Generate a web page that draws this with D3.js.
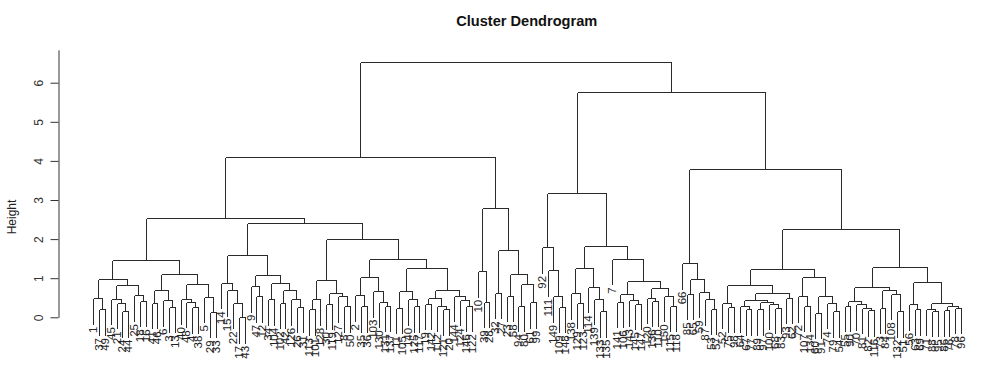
<!DOCTYPE html>
<html><head><meta charset="utf-8">
<script src="https://cdn.jsdelivr.net/npm/d3@7/dist/d3.min.js"></script>
<style>body{margin:0;background:#fff}svg{display:block}</style>
</head><body><svg id="chart" width="982" height="381"></svg>
<script>
// Node = [mergeHeight, left, right]; leaf = observation label.
const clusterA = [1.46,
  [0.99, [0.49, 1, [0.2, 37, 49]], [0.82, [0.48, 45, [0.37, 21, [0.16, 24, 44]]], [0.56, 25, [0.42, 18, 16]]]],
  [1.1, [0.69, [0.37, 41, 46], [0.44, 6, [0.27, 3, 13]]], [0.86, [0.48, 40, [0.4, 48, [0.26, 4, 38]]], [0.53, 5, [0.14, 29, 33]]]]];
const clusterB = [1.6,
  [0.88, 14, [0.7, 15, [0.37, 22, [0.0, 17, 43]]]],
  [1.08, [0.8, 9, [0.54, 47, 12]], [0.88, [0.46, 34, 104], [0.71, [0.37, 102, 42], [0.46, 126, [0.27, 26, 31]]]]]];
const clusterC = [2.0,
  [0.95, [0.46, [0.2, 113, 101], 128], [0.63, [0.35, 30, 119], [0.54, 127, [0.29, 8, 50]]]],
  [1.5,
    [1.03, [0.56, 2, [0.28, 35, 36]], [0.67, 103, [0.4, 130, [0.3, 131, 137]]]],
    [1.27, [0.67, [0.25, 11, 105], [0.46, 140, [0.29, 125, 117]]],
           [0.71, [0.5, [0.35, 19, 142], [0.3, 112, [0.2, 121, 20]]], [0.55, 144, [0.45, 124, [0.3, 146, 122]]]]]]];
const clusterD = [2.8,
  [1.18, 10, [0.4, 39, 28]],
  [1.73, [0.63, 32, 27], [1.11, [0.55, 23, 58], [0.84, [0.3, 94, 80], [0.39, 61, 99]]]]];
const clusterE = [3.19,
  [1.79, 92, [1.2, 111, [0.54, 149, [0.27, 109, 148]]]],
  [1.83,
    [1.25, [0.61, 138, [0.37, 129, 123]], [0.78, 114, [0.48, 139, [0.16, 133, 135]]]],
    [1.5, 7, [0.93, [0.6, [0.4, 141, 106], [0.43, 143, [0.35, 145, 147]]], [0.76, [0.5, 120, [0.42, 136, 110]], [0.55, 150, [0.3, 115, 118]]]]]]];
const clusterF = [3.8,
  [1.39, 66, [0.97, [0.6, 85, 65], [0.65, 59, [0.46, 87, [0.22, 53, 57]]]]],
  [2.27,
    [1.23,
      [0.82, [0.37, 52, [0.27, 75, 98]], [0.63, [0.43, [0.29, 64, [0.2, 67, 77]], [0.4, [0.2, 89, 97], [0.35, 100, [0.25, 68, 83]]]], [0.5, 93, 62]]],
      [1.04, [0.54, 72, [0.3, 107, 134]], [0.54, [0.12, 60, 91], [0.37, 74, [0.16, 79, 54]]]]],
    [1.28,
      [0.77, [0.42, [0.3, 55, 90], [0.33, 70, [0.25, 81, [0.18, 82, 116]]]], [0.69, [0.25, 73, 84], [0.6, 108, [0.16, 132, 51]]]],
      [0.91, [0.33, 56, [0.2, 63, 69]], [0.37, [0.2, 71, [0.17, 88, 95]], [0.29, [0.18, 86, 76], [0.25, 78, 96]]]]]]];
const upperTree = [6.54, [4.09, [2.55, "A", [2.4, "B", "C"]], "D"], [5.76, "E", "F"]];
const clusterParts = {A: clusterA, B: clusterB, C: clusterC, D: clusterD, E: clusterE, F: clusterF};
const yTicks = [0, 1, 2, 3, 4, 5, 6];
const axisTop = 6.84;
const hangFrac = 0.1;

function build(n) {
  if (typeof n === "string") return build(clusterParts[n]);
  if (Array.isArray(n)) return {h: n[0], children: [build(n[1]), build(n[2])]};
  return {label: String(n)};
}
const root = d3.hierarchy(build(upperTree));
const leaves = root.leaves();
const nLeaves = leaves.length;
const maxH = root.data.h;
const hang = hangFrac * maxH;

const svg = d3.select("#chart");
const x = d3.scaleLinear().domain([1, nLeaves]).range([93.3, 961.1]);
const y = d3.scaleLinear().domain([0, axisTop]).range([317.3, 317.3 - 39.1 * axisTop]);

leaves.forEach((l, i) => { l.px = x(i + 1); });
root.eachAfter(n => { if (n.children) n.px = (n.children[0].px + n.children[1].px) / 2; });

const stroke = "#2a2a2a";
const g = svg.append("g").attr("stroke", stroke).attr("stroke-width", 1).attr("fill", "none")
  .attr("shape-rendering", "crispEdges");
const segs = [];
root.each(n => {
  if (!n.children) return;
  const yh = y(n.data.h);
  segs.push([n.children[0].px, yh, n.children[1].px, yh]);
  n.children.forEach(c => {
    const bottom = c.children ? y(c.data.h) : y(n.data.h - hang);
    segs.push([c.px, yh, c.px, bottom]);
  });
});
g.selectAll("line").data(segs).join("line")
  .attr("x1", d => Math.round(d[0]) + 0.5).attr("y1", d => Math.round(d[1]) + 0.5)
  .attr("x2", d => Math.round(d[2]) + 0.5).attr("y2", d => Math.round(d[3]) + 0.5);

// leaf labels
svg.append("g").selectAll("text").data(leaves).join("text")
  .attr("transform", d => `translate(${d.px + 4},${y(d.parent.data.h - hang) + 3}) rotate(-90)`)
  .attr("text-anchor", "end")
  .attr("font-family", "Liberation Sans, Arial, sans-serif")
  .attr("font-size", 11.5).attr("fill", "#222")
  .text(d => d.data.label);

// y axis
const axis = d3.axisLeft(y).tickValues(yTicks).tickSize(8).tickSizeOuter(0).tickFormat(d3.format("d"));
const ax = svg.append("g").attr("transform", "translate(58.5,0)").call(axis);
ax.select(".domain").attr("stroke", "#333");
ax.selectAll(".tick line").attr("stroke", "#333");
ax.selectAll(".tick text")
  .attr("x", null).attr("dy", null)
  .attr("transform", "translate(-16,0) rotate(-90)")
  .attr("text-anchor", "middle")
  .attr("font-family", "Liberation Sans, Arial, sans-serif")
  .attr("font-size", 12).attr("fill", "#333");

svg.append("text").attr("transform", "translate(16,217) rotate(-90)")
  .attr("text-anchor", "middle").attr("font-family", "Liberation Sans, Arial, sans-serif")
  .attr("font-size", 12).attr("fill", "#222").text("Height");

svg.append("text").attr("x", 526.7).attr("y", 26).attr("text-anchor", "middle")
  .attr("font-family", "Liberation Sans, Arial, sans-serif").attr("font-weight", "bold")
  .attr("font-size", 14.6).attr("fill", "#111").text("Cluster Dendrogram");
</script></body></html>
